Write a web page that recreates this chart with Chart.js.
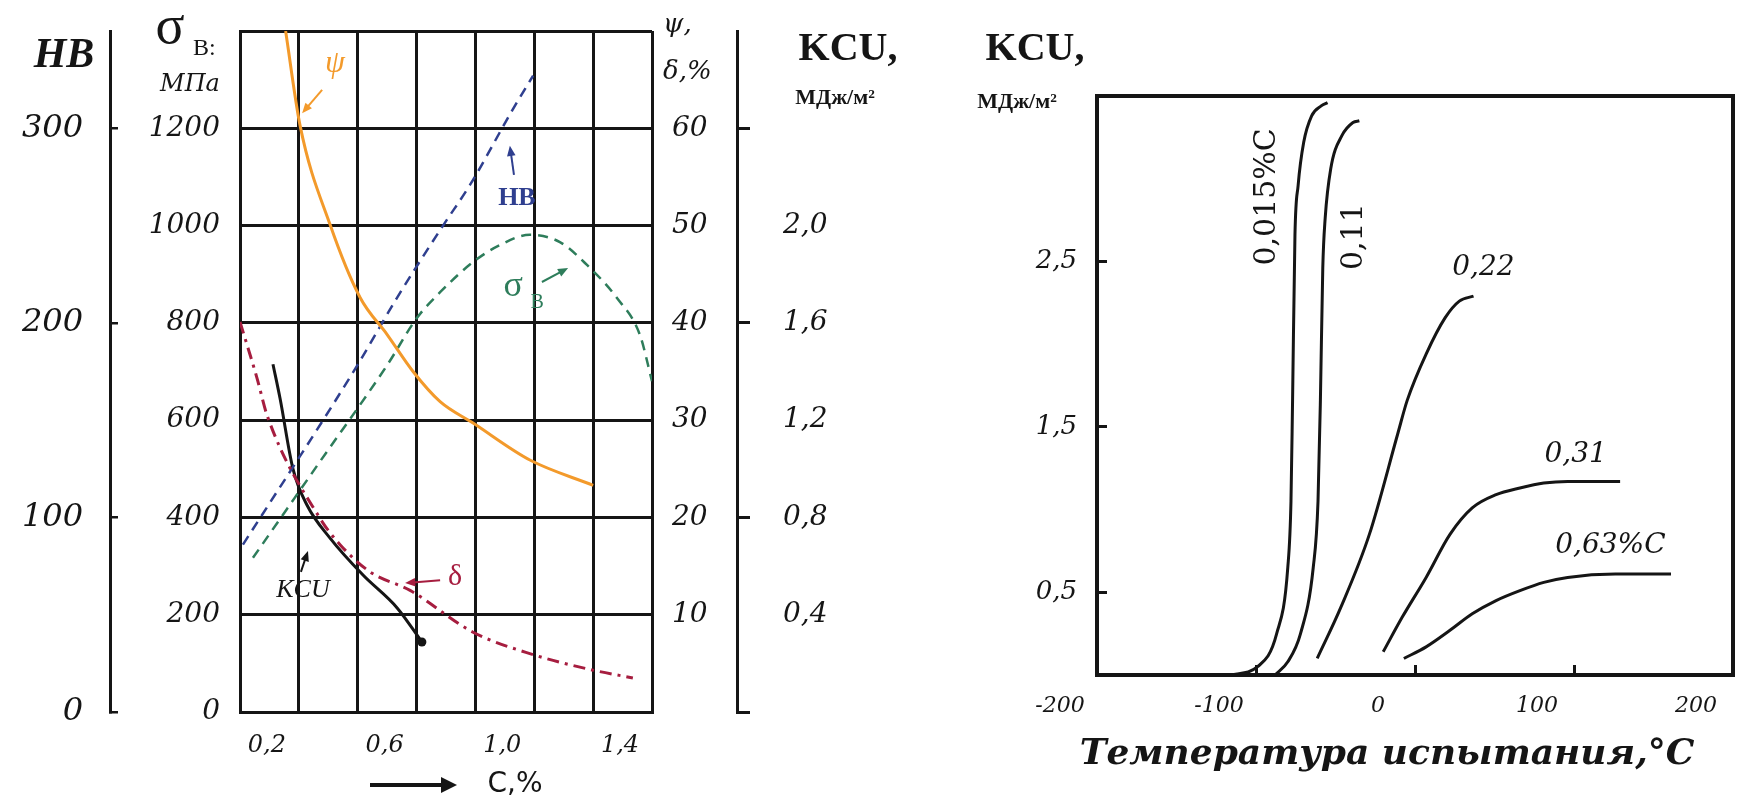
<!DOCTYPE html>
<html>
<head>
<meta charset="utf-8">
<script src="https://cdn.jsdelivr.net/npm/chart.js@4.4.1/dist/chart.umd.min.js"></script>
<style>
  html, body { margin: 0; padding: 0; background: #fff; }
  #wrap { position: relative; width: 1739px; height: 803px; overflow: hidden; }
  #left { position: absolute; left: 0; top: 0; }
  #right { position: absolute; left: 930px; top: 0; }
</style>
</head>
<body>
<div id="wrap">
  <canvas id="left" width="930" height="803"></canvas>
  <canvas id="right" width="809" height="803"></canvas>
</div>
<script>
// ---- left chart: properties vs carbon content ----
const carbonTicks = [0, 0.2, 0.4, 0.6, 0.8, 1.0, 1.2, 1.4];
const carbonLabels = [0.2, 0.6, 1.0, 1.4];
const sigmaTicks = [0, 200, 400, 600, 800, 1000, 1200, 1400];
const hbTicks = [0, 100, 200, 300];
const psiTicks = [10, 20, 30, 40, 50, 60];
const kcuTicks = [0, 0.4, 0.8, 1.2, 1.6, 2.0, 2.4];

const psiCarbon = [0.155, 0.204, 0.306, 0.408, 0.5, 0.588, 0.68, 0.792, 0.985, 1.2];
const psiValues = [70, 60.3, 50.1, 42.6, 38.8, 35.0, 31.9, 29.7, 25.9, 23.3];

const deltaCarbon = [0, 0.058, 0.092, 0.272, 0.34, 0.442, 0.578, 0.792, 0.996, 1.2, 1.335];
const deltaValues = [40.1, 34.3, 30.5, 19.9, 17.2, 14.4, 12.5, 8.2, 5.9, 4.3, 3.5];

const hbCarbon = [0.01, 0.398, 0.534, 0.69, 0.782, 0.928, 0.996];
const hbValues = [86, 178, 213, 250, 271, 310, 327];

const sigmaCarbon = [0.044, 0.272, 0.5, 0.601, 0.68, 0.792, 0.883, 0.985, 1.087, 1.179, 1.281, 1.359, 1.4];
const sigmaValues = [317, 515, 713, 810, 863, 925, 960, 981, 966, 919, 851, 775, 680];

const kcuCarbon = [0.112, 0.136, 0.18, 0.228, 0.306, 0.418, 0.534, 0.618];
const kcuValues = [1.43, 1.29, 1.0, 0.85, 0.715, 0.563, 0.428, 0.288];

// curve captions on the left chart (x in C,%, y in MPa)
const noteText = ['ψ', 'HB', 'σ', 'KCU', 'δ'];
const noteCarbon = [0.323, 0.941, 0.928, 0.214, 0.731];
const noteSigma = [1332, 1057, 874, 251, 278];
const arrowFromC = [0.279, 0.931, 1.026, 0.207, 0.68];
const arrowFromS = [1279, 1104, 884, 288, 271];
const arrowToC = [0.211, 0.917, 1.115, 0.231, 0.561];
const arrowToS = [1231, 1164, 913, 331, 265];

// ---- right chart: KCU vs test temperature ----
const tempTicks = [-200, -100, 0, 100, 200];
const impactTicks = [0.5, 1.5, 2.5];

const temp015 = [-116, -99, -87, -80, -78, -77, -75.5, -73.5, -70, -65, -59, -55];
const kcu015 = [0, 0.05, 0.25, 0.65, 1.05, 1.66, 2.66, 2.96, 3.22, 3.38, 3.44, 3.46];
const temp011 = [-88, -80, -72, -64, -61, -59.5, -58, -56.5, -53, -46, -39, -35];
const kcu011 = [0, 0.08, 0.25, 0.65, 1.05, 1.66, 2.46, 2.76, 3.06, 3.26, 3.34, 3.35];
const temp022 = [-61.5, -46.6, -28.7, -10.8, -4.9, 7, 19, 27.9, 36.8];
const kcu022 = [0.1, 0.41, 0.85, 1.46, 1.66, 1.94, 2.16, 2.26, 2.29];
const temp031 = [-20, -8, 7, 22, 36, 51, 66, 81, 96, 129];
const kcu031 = [0.14, 0.35, 0.59, 0.85, 1.01, 1.09, 1.13, 1.16, 1.17, 1.17];
const temp063 = [-7, 7, 22, 36, 51, 66, 81, 96, 126, 161];
const kcu063 = [0.1, 0.17, 0.27, 0.37, 0.45, 0.51, 0.56, 0.59, 0.61, 0.61];

const curveNames = ['0,015%C', '0,11', '0,22', '0,31', '0,63%C'];
const nameTemp = [-93, -38, 43, 101, 122.9];
const nameKcu = [2.89, 2.65, 2.46, 1.33, 0.78];

const INK = '#151515';
const ORANGE = '#f39a2b';
const RED = '#a61d3f';
const BLUE = '#2f3f8f';
const GREEN = '#2e7d5b';

const pts = (xs, ys) => xs.map((x, i) => ({ x, y: ys[i] }));
const comma = v => v.toFixed(1).replace('.', ',');
const numFont = size => ({ family: '"DejaVu Serif", serif', size, style: 'italic' });
const setTicks = list => scale => { scale.ticks = list.map(v => ({ value: v })); };

// fixed axis box sizes, no extra room for overhanging labels
const fixWidth = w => s => { s.width = w; s.paddingTop = 0; s.paddingBottom = 0; s.paddingLeft = 0; s.paddingRight = 0; };
const fixHeight = h => s => { s.height = h; s.paddingTop = 0; s.paddingBottom = 0; s.paddingLeft = 0; s.paddingRight = 0; };

function say(ctx, text, x, y, font, color, align) {
  ctx.font = font;
  ctx.fillStyle = color;
  ctx.textAlign = align || 'center';
  ctx.textBaseline = 'middle';
  ctx.fillText(text, x, y);
}

function arrow(ctx, x0, y0, x1, y1, color) {
  const a = Math.atan2(y1 - y0, x1 - x0), h = 11;
  ctx.strokeStyle = color;
  ctx.fillStyle = color;
  ctx.lineWidth = 2;
  ctx.setLineDash([]);
  ctx.beginPath();
  ctx.moveTo(x0, y0);
  ctx.lineTo(x1 - Math.cos(a) * h * 0.7, y1 - Math.sin(a) * h * 0.7);
  ctx.stroke();
  ctx.beginPath();
  ctx.moveTo(x1, y1);
  ctx.lineTo(x1 - h * Math.cos(a - 0.4), y1 - h * Math.sin(a - 0.4));
  ctx.lineTo(x1 - h * Math.cos(a + 0.4), y1 - h * Math.sin(a + 0.4));
  ctx.closePath();
  ctx.fill();
}

const noteColor = [ORANGE, BLUE, GREEN, INK, RED];
const noteFont = ['italic 32px "Liberation Serif"', 'bold 26px "Liberation Serif"', '36px "Liberation Serif"',
  'italic 26px "Liberation Serif"', '30px "Liberation Serif"'];

const leftNotes = {
  id: 'leftNotes',
  afterDatasetsDraw(chart) {
    const { ctx } = chart;
    const xs = chart.scales.x, ys = chart.scales.ySig;
    ctx.save();
    noteText.forEach((t, i) => {
      const px = xs.getPixelForValue(noteCarbon[i]);
      const py = ys.getPixelForValue(noteSigma[i]);
      say(ctx, t, px, py, noteFont[i], noteColor[i]);
      if (t === 'σ') say(ctx, 'В', px + 24, py + 16, '20px "Liberation Serif"', noteColor[i]);
      arrow(ctx, xs.getPixelForValue(arrowFromC[i]), ys.getPixelForValue(arrowFromS[i]),
        xs.getPixelForValue(arrowToC[i]), ys.getPixelForValue(arrowToS[i]), noteColor[i]);
    });
    ctx.restore();
  },
  afterDraw(chart) {
    const { ctx, chartArea: a, scales } = chart;
    ctx.save();
    const hbEdge = scales.yHB.right;
    say(ctx, 'HB', hbEdge - 46, a.top + 25, 'bold italic 42px "Liberation Serif"', INK);
    say(ctx, 'σ', a.left - 70, a.top - 2, '54px "Liberation Serif"', INK);
    say(ctx, 'В:', a.left - 47, a.top + 18, '24px "Liberation Serif"', INK, 'left');
    say(ctx, 'МПа', a.left - 50, a.top + 54, 'italic 24px "DejaVu Serif"', INK);
    say(ctx, 'ψ,', a.right + 11, a.top - 6, 'italic 26px "DejaVu Serif"', INK, 'left');
    say(ctx, 'δ,%', a.right + 11, a.top + 41, 'italic 26px "DejaVu Serif"', INK, 'left');
    const kcuEdge = scales.yKCU.left;
    say(ctx, 'KCU,', kcuEdge + 111, a.top + 19, 'bold 40px "Liberation Serif"', INK);
    say(ctx, 'МДж/м²', kcuEdge + 98, a.top + 67, 'bold 22px "Liberation Serif"', INK);
    // carbon axis caption with arrow
    const ay = a.bottom + 73;
    ctx.strokeStyle = INK;
    ctx.fillStyle = INK;
    ctx.lineWidth = 4;
    ctx.beginPath();
    ctx.moveTo(a.left + 130, ay);
    ctx.lineTo(a.left + 203, ay);
    ctx.stroke();
    ctx.beginPath();
    ctx.moveTo(a.left + 217, ay);
    ctx.lineTo(a.left + 201, ay - 8);
    ctx.lineTo(a.left + 201, ay + 8);
    ctx.closePath();
    ctx.fill();
    say(ctx, 'C,%', a.left + 275, ay, '28px "DejaVu Sans"', INK);
    ctx.restore();
  }
};

new Chart(document.getElementById('left'), {
  type: 'line',
  data: {
    datasets: [
      { label: 'ψ', data: pts(psiCarbon, psiValues), yAxisID: 'yPsi', borderColor: ORANGE, borderWidth: 3 },
      { label: 'δ', data: pts(deltaCarbon, deltaValues), yAxisID: 'yPsi', borderColor: RED, borderWidth: 3,
        borderDash: [12, 6, 3, 6] },
      { label: 'HB', data: pts(hbCarbon, hbValues), yAxisID: 'yHB', borderColor: BLUE, borderWidth: 2.5,
        borderDash: [10, 7] },
      { label: 'σВ', data: pts(sigmaCarbon, sigmaValues), yAxisID: 'ySig', borderColor: GREEN, borderWidth: 2.5,
        borderDash: [10, 7] },
      { label: 'KCU', data: pts(kcuCarbon, kcuValues), yAxisID: 'yKCU', borderColor: INK, borderWidth: 3,
        pointRadius: c => (c.dataIndex === kcuCarbon.length - 1 ? 4.5 : 0), pointBackgroundColor: INK,
        pointBorderWidth: 0 }
    ]
  },
  options: {
    responsive: false,
    animation: false,
    layout: { padding: { top: 31 } },
    elements: { point: { radius: 0 }, line: { cubicInterpolationMode: 'monotone' } },
    plugins: { legend: { display: false }, tooltip: { enabled: false } },
    scales: {
      x: {
        type: 'linear', min: 0, max: 1.4,
        afterBuildTicks: setTicks(carbonTicks),
        afterFit: fixHeight(91),
        grid: { color: INK, lineWidth: 3, drawTicks: false },
        border: { color: INK, width: 3 },
        ticks: {
          padding: 19, labelOffset: -32, maxRotation: 0, autoSkip: false, color: INK, font: numFont(24),
          callback: v => (carbonLabels.some(c => Math.abs(c - v) < 1e-6) ? comma(v) : '')
        }
      },
      ySig: {
        position: 'left', weight: 0, min: 0, max: 1400,
        afterBuildTicks: setTicks(sigmaTicks),
        afterFit: fixWidth(130),
        grid: { color: INK, lineWidth: 3, drawTicks: false },
        border: { color: INK, width: 3 },
        ticks: { padding: 20, color: INK, font: numFont(28), callback: v => (v < 1400 ? String(v) : '') }
      },
      yHB: {
        position: 'left', weight: 1, min: 0, max: 350,
        afterBuildTicks: setTicks(hbTicks),
        afterFit: fixWidth(110),
        grid: { drawOnChartArea: false, tickLength: -8, color: INK, lineWidth: 2.5 },
        border: { color: INK, width: 3 },
        ticks: { padding: 35, color: INK, font: numFont(32) }
      },
      yPsi: {
        position: 'right', weight: 0, min: 0, max: 70,
        afterBuildTicks: setTicks(psiTicks),
        afterFit: fixWidth(85),
        grid: { display: false, drawTicks: false },
        border: { display: false },
        ticks: { padding: 20, color: INK, font: numFont(28) }
      },
      yKCU: {
        position: 'right', weight: 1, min: 0, max: 2.8,
        afterBuildTicks: setTicks(kcuTicks),
        afterFit: fixWidth(193),
        grid: {
          drawOnChartArea: false, tickLength: 13, lineWidth: 3,
          tickColor: c => (Math.round(c.tick.value * 10) % 8 === 0 ? INK : 'rgba(0,0,0,0)')
        },
        border: { color: INK, width: 3 },
        ticks: {
          padding: 33, color: INK, font: numFont(28),
          callback: v => (v > 0.2 && v < 2.2 ? comma(v) : '')
        }
      }
    }
  },
  plugins: [leftNotes]
});

const rightNotes = {
  id: 'rightNotes',
  afterDatasetsDraw(chart) {
    const { ctx, chartArea: a } = chart;
    const xs = chart.scales.x, ys = chart.scales.y;
    ctx.save();
    ctx.strokeStyle = INK;
    ctx.lineWidth = 4;
    ctx.strokeRect(a.left, a.top, a.right - a.left, a.bottom - a.top);
    curveNames.forEach((t, i) => {
      const px = xs.getPixelForValue(nameTemp[i]);
      const py = ys.getPixelForValue(nameKcu[i]);
      if (i < 2) {
        ctx.save();
        ctx.translate(px, py);
        ctx.rotate(-Math.PI / 2);
        say(ctx, t, 0, 0, '30px "DejaVu Serif"', INK);
        ctx.restore();
      } else {
        say(ctx, t, px, py, 'italic 28px "DejaVu Serif"', INK);
      }
    });
    say(ctx, 'KCU,', a.left - 62, 50, 'bold 40px "Liberation Serif"', INK);
    say(ctx, 'МДж/м²', a.left - 80, 102, 'bold 22px "Liberation Serif"', INK);
    say(ctx, 'Температура испытания,°C', (a.left + a.right) / 2 - 28, a.bottom + 80,
      'bold italic 36px "DejaVu Serif"', INK);
    ctx.restore();
  }
};

const blackCurve = (name, xs, ys) => ({
  label: name, data: pts(xs, ys), borderColor: INK, borderWidth: 3
});

new Chart(document.getElementById('right'), {
  type: 'line',
  data: {
    datasets: [
      blackCurve('0,015%C', temp015, kcu015),
      blackCurve('0,11', temp011, kcu011),
      blackCurve('0,22', temp022, kcu022),
      blackCurve('0,31', temp031, kcu031),
      blackCurve('0,63%C', temp063, kcu063)
    ]
  },
  options: {
    responsive: false,
    animation: false,
    layout: { padding: { top: 96, right: 6 } },
    elements: { point: { radius: 0 }, line: { cubicInterpolationMode: 'monotone' } },
    plugins: { legend: { display: false }, tooltip: { enabled: false } },
    scales: {
      x: {
        type: 'linear', min: -200, max: 200,
        afterBuildTicks: setTicks(tempTicks),
        afterFit: fixHeight(128),
        grid: { drawOnChartArea: false, tickLength: -10, color: INK, lineWidth: 3 },
        border: { color: INK, width: 4 },
        ticks: {
          padding: 28, labelOffset: -37, maxRotation: 0, autoSkip: false, color: INK, font: numFont(22),
          callback: v => (v < 0 ? '-' + Math.abs(v) : String(v))
        }
      },
      y: {
        min: 0, max: 3.5,
        afterBuildTicks: setTicks(impactTicks),
        afterFit: fixWidth(167),
        grid: { drawOnChartArea: false, tickLength: -10, color: INK, lineWidth: 3 },
        border: { color: INK, width: 4 },
        ticks: { padding: 30, color: INK, font: numFont(26), callback: v => comma(v) }
      }
    }
  },
  plugins: [rightNotes]
});
</script>
</body>
</html>
